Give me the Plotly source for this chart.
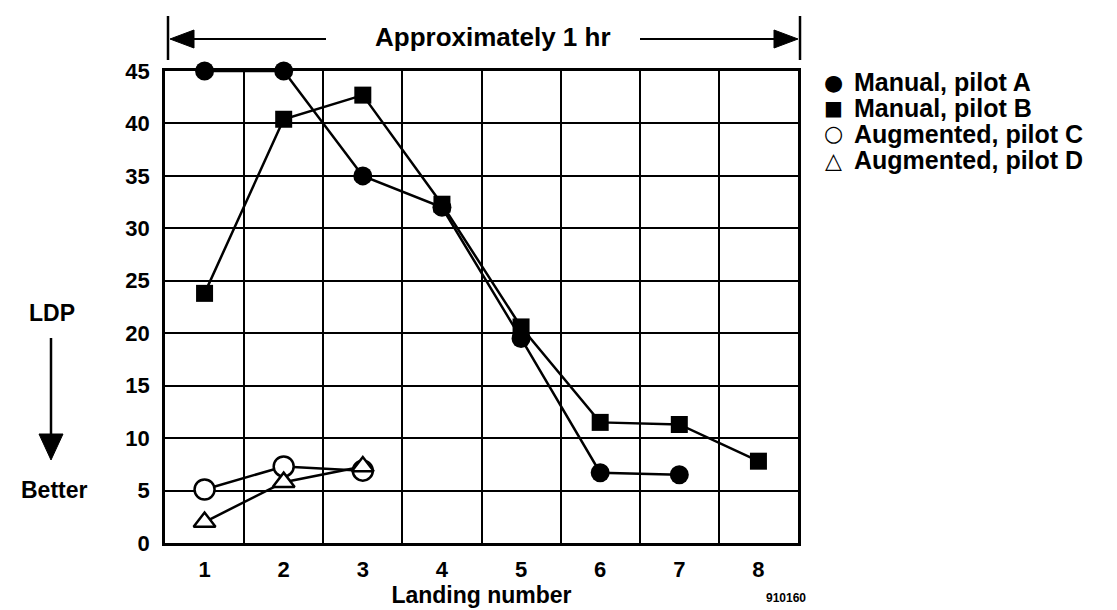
import plotly.graph_objects as go

# ---------------- data ----------------
landing_A = [1, 2, 3, 4, 5, 6, 7]
ldp_A = [45.0, 45.0, 35.0, 32.0, 19.5, 6.7, 6.5]

landing_B = [1, 2, 3, 4, 5, 6, 7, 8]
ldp_B = [23.8, 40.4, 42.7, 32.3, 20.6, 11.5, 11.3, 7.8]

landing_C = [1, 2, 3]
ldp_C = [5.1, 7.3, 6.9]

landing_D = [1, 2, 3]
ldp_D = [2.0, 5.8, 7.3]

series_names = ["Manual, pilot A", "Manual, pilot B",
                "Augmented, pilot C", "Augmented, pilot D"]
legend_glyphs = ["\u25CF", "\u25A0", "\u25CB", "\u25B3"]
x_ticks = [1, 2, 3, 4, 5, 6, 7, 8]
y_ticks = [0, 5, 10, 15, 20, 25, 30, 35, 40, 45]

# ---------------- layout geometry (pixels) ----------------
W, H = 1117, 610
X0, X1 = 157, 790     # plot left/right
YT, YB = 63, 535      # plot top/bottom

def px(x):
    return (x - X0) / (X1 - X0)

def py(y):
    return (YB - y) / (YB - YT)

FONT = "Liberation Sans, Arial, Helvetica, sans-serif"
LW = 2.5

fig = go.Figure()

styles = [
    dict(symbol="circle", size=19, color="black", line=dict(color="black", width=0)),
    dict(symbol="square", size=17, color="black", line=dict(color="black", width=0)),
    dict(symbol="circle", size=20, color="white", line=dict(color="black", width=2.5)),
    dict(symbol="triangle-up", size=19, color="white", line=dict(color="black", width=2.5)),
]
datasets = [(landing_A, ldp_A), (landing_B, ldp_B), (landing_C, ldp_C), (landing_D, ldp_D)]

for (xs, ys), st, name in zip(datasets, styles, series_names):
    fig.add_trace(go.Scatter(
        x=xs, y=ys, mode="lines+markers", name=name, showlegend=False,
        line=dict(color="black", width=LW), marker=st, cliponaxis=False,
    ))

shapes = []
# top "approximately 1 hr" bars and arrows
for xb in (160, 792):
    shapes.append(dict(type="line", xref="paper", yref="paper",
                       x0=px(xb), x1=px(xb), y0=py(8), y1=py(52),
                       line=dict(color="black", width=2.5)))
ya = 31
shapes.append(dict(type="line", xref="paper", yref="paper",
                   x0=px(175), x1=px(318), y0=py(ya), y1=py(ya),
                   line=dict(color="black", width=2)))
shapes.append(dict(type="line", xref="paper", yref="paper",
                   x0=px(632), x1=px(778), y0=py(ya), y1=py(ya),
                   line=dict(color="black", width=2)))
# arrowheads
shapes.append(dict(type="path", xref="paper", yref="paper",
                   path=f"M {px(162)},{py(ya)} L {px(186)},{py(ya-9)} L {px(186)},{py(ya+9)} Z",
                   fillcolor="black", line=dict(color="black", width=1)))
shapes.append(dict(type="path", xref="paper", yref="paper",
                   path=f"M {px(790)},{py(ya)} L {px(766)},{py(ya-9)} L {px(766)},{py(ya+9)} Z",
                   fillcolor="black", line=dict(color="black", width=1)))
# LDP -> Better arrow
xa = 43
shapes.append(dict(type="line", xref="paper", yref="paper",
                   x0=px(xa), x1=px(xa), y0=py(330), y1=py(432),
                   line=dict(color="black", width=2.5)))
shapes.append(dict(type="path", xref="paper", yref="paper",
                   path=f"M {px(xa)},{py(452)} L {px(xa-12)},{py(426)} L {px(xa+12)},{py(426)} Z",
                   fillcolor="black", line=dict(color="black", width=1)))

annotations = [
    dict(text="Approximately 1 hr", x=px(485), y=py(29), xref="paper", yref="paper",
         showarrow=False, xanchor="center", yanchor="middle",
         font=dict(family=FONT, size=26, color="black", weight="bold")),
    dict(text="LDP", x=px(44), y=py(305), xref="paper", yref="paper",
         showarrow=False, xanchor="center", yanchor="middle",
         font=dict(family=FONT, size=23, color="black", weight="bold")),
    dict(text="Better", x=px(46), y=py(482), xref="paper", yref="paper",
         showarrow=False, xanchor="center", yanchor="middle",
         font=dict(family=FONT, size=23, color="black", weight="bold")),
    dict(text="910160", x=px(800), y=py(590), xref="paper", yref="paper",
         showarrow=False, xanchor="right", yanchor="middle",
         font=dict(family=FONT, size=12, color="black")),
]

# hand-built legend (glyph + label), tight row pitch as in the reference
leg_top, leg_pitch = 74, 26
glyph_sizes = [22, 20, 22, 22]
for i, (g, name) in enumerate(zip(legend_glyphs, series_names)):
    yy = leg_top + i * leg_pitch
    annotations.append(dict(text=g, x=px(825), y=py(yy), xref="paper", yref="paper",
                            showarrow=False, xanchor="center", yanchor="middle",
                            font=dict(family="DejaVu Sans", size=glyph_sizes[i],
                                      color="black", weight="bold")))
    annotations.append(dict(text=name, x=px(844), y=py(yy), xref="paper", yref="paper",
                            showarrow=False, xanchor="left", yanchor="middle",
                            font=dict(family=FONT, size=25, color="black",
                                      weight="bold")))

fig.update_layout(
    width=W, height=H,
    margin=dict(l=X0, r=W - X1, t=YT, b=H - YB, autoexpand=False),
    paper_bgcolor="white", plot_bgcolor="white",
    font=dict(family=FONT, size=22, color="black", weight="bold"),
    shapes=shapes, annotations=annotations, showlegend=False,
    xaxis=dict(range=[0.5, 8.5], tickmode="array", tickvals=x_ticks,
               ticktext=[str(v) for v in x_ticks], showgrid=False,
               zeroline=False, showline=True, mirror=True,
               linecolor="black", linewidth=2.5, ticks="", ticklabelstandoff=5,
               title=dict(text="Landing number", standoff=2,
                          font=dict(family=FONT, size=23, weight="bold")),
               minor=dict(tickmode="array", tickvals=[1.5, 2.5, 3.5, 4.5, 5.5, 6.5, 7.5],
                          showgrid=True, gridcolor="black", gridwidth=2, ticks="")),
    yaxis=dict(range=[0, 45], tickmode="array", tickvals=y_ticks,
               ticktext=[str(v) for v in y_ticks], showgrid=True,
               gridcolor="black", gridwidth=2, zeroline=False, showline=True,
               mirror=True, linecolor="black", linewidth=2.5, ticks="",
               ticklabelstandoff=8),
)

fig.write_html("out.html")
